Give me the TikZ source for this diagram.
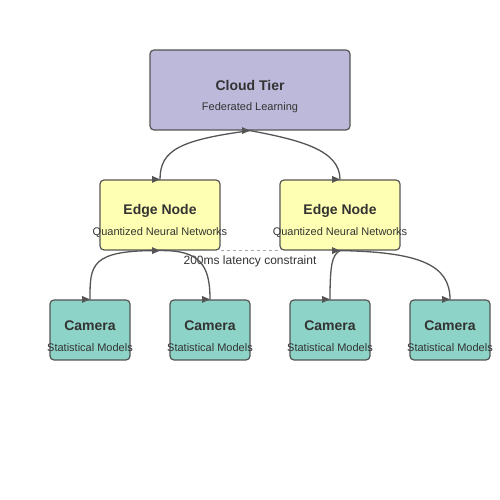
\documentclass[tikz,border=0pt]{standalone}
\usepackage{fontspec}
\setmainfont{Liberation Sans}
\usetikzlibrary{calc}

\definecolor{cloudfill}{HTML}{BDB9DA}
\definecolor{edgefill}{HTML}{FFFFB3}
\definecolor{camfill}{HTML}{8DD3C7}
\definecolor{linec}{HTML}{555555}
\definecolor{textc}{HTML}{333333}

\tikzset{
	box/.style={draw=linec, line width=1.2pt, rounded corners=4pt, inner sep=0pt},
	ttl/.style={text=textc, font=\fontsize{14}{16}\selectfont\bfseries, inner sep=0pt},
	sub/.style={text=textc, font=\fontsize{11}{13}\selectfont, inner sep=0pt},
	link/.style={draw=linec, line width=1.3pt}
}
% small marker pointing right, tip on the given point
\newcommand{\tipmark}[1]{\fill[linec] (#1) -- ++(-8pt,3.5pt) -- ++(0,-7pt) -- cycle;}

\begin{document}
\begin{tikzpicture}[x=1pt,y=1pt]
	\useasboundingbox (0,0) rectangle (500,500);
	\fill[white] (0,0) rectangle (500,500);
	
	% cloud tier
	\node[box, fill=cloudfill, minimum width=200pt, minimum height=80pt] (cloud) at (250,410) {};
	\node[ttl] (cloudT) at ($(cloud)+(0,4)$) {Cloud Tier};
	\node[sub] (cloudS) at ($(cloud)+(0,-17.5)$) {Federated Learning};
	
	% edge nodes
	\foreach \n/\x in {edgeL/160, edgeR/340} {
		\node[box, fill=edgefill, minimum width=120pt, minimum height=70pt] (\n) at (\x,285) {};
		\node[ttl] at ($(\n)+(0,4)$) {Edge Node};
		\node[sub] at ($(\n)+(0,-17.5)$) {Quantized Neural Networks};
	}
	
	% cameras
	\foreach \n/\x in {camA/90, camB/210, camC/330, camD/450} {
		\node[box, fill=camfill, minimum width=80pt, minimum height=60pt] (\n) at (\x,170) {};
		\node[ttl] at ($(\n)+(0,4)$) {Camera};
		\node[sub] at ($(\n)+(0,-17.5)$) {Statistical Models};
	}
	
	% latency constraint
	\draw[gray!70, dashed, line width=1pt] (edgeL.south east) -- (edgeR.south west);
	\node[sub, font=\fontsize{12}{14}\selectfont] (lat) at (250,238.5) {200ms latency constraint};
	
	% cloud -- edge
	\draw[link] (cloud.south) .. controls (180,360) and (160,350) .. (edgeL.north);
	\draw[link] (cloud.south) .. controls (300,360) and (340,350) .. (edgeR.north);
	
	% edge -- cameras
	\draw[link] (edgeL.south) .. controls (90,250) and (90,235) .. (camA.north);
	\draw[link] (edgeL.south) .. controls (200,250) and (210,235) .. (camB.north);
	\draw[link] (edgeR.south) .. controls (332,245) and (330,235) .. (camC.north);
	\draw[link] (edgeR.south) .. controls (420,248) and (450,235) .. (camD.north);
	
	% markers
	\tipmark{cloud.south}
	\tipmark{edgeL.north}
	\tipmark{edgeR.north}
	\tipmark{edgeL.south}
	\tipmark{edgeR.south}
	\foreach \n in {camA, camB, camC, camD} {\tipmark{\n.north}}
\end{tikzpicture}
\end{document}
